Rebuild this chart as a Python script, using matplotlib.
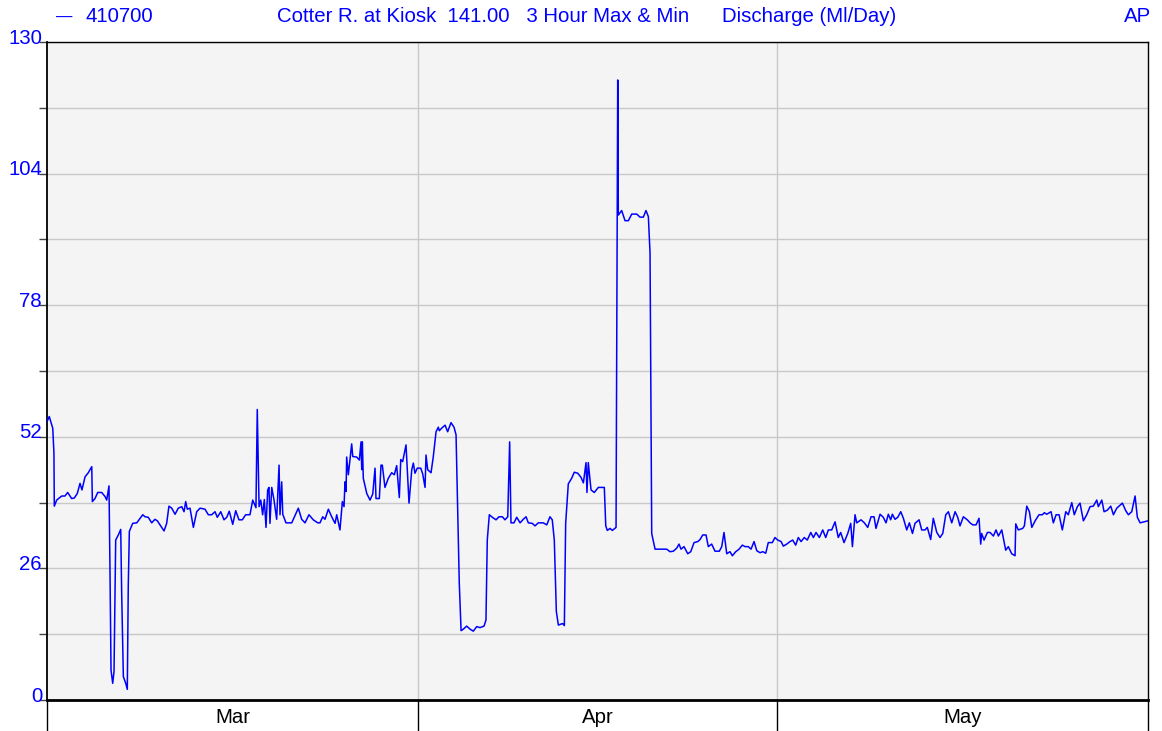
import matplotlib
matplotlib.use("Agg")
import matplotlib.pyplot as plt
import matplotlib.transforms as mtransforms

plt.rcParams["font.family"] = ["Liberation Sans", "DejaVu Sans"]

# ── station / series info ──
STATION   = "410700"
SITE      = "Cotter R. at Kiosk  141.00   3 Hour Max & Min"
VARIABLE  = "Discharge (Ml/Day)"
QUALITY   = "AP"

MONTHS       = ["Mar", "Apr", "May"]
MONTH_STARTS = [0, 31, 61, 92]          # days since 1 March

Y_MAJOR = [0, 26, 52, 78, 104, 130]
Y_MINOR = [13, 39, 65, 91, 117]

# ── discharge (Ml/day) vs days since 1 March ──
days = [
    0.00, 0.19, 0.48, 0.58, 0.61, 0.81, 1.23, 1.50, 1.73, 2.06, 2.28, 2.53,
    2.76, 2.92, 3.18, 3.45, 3.74, 3.79, 4.01, 4.24, 4.57, 4.85, 4.99, 5.18,
    5.26, 5.35, 5.49, 5.60, 5.74, 5.96, 6.16, 6.24, 6.38, 6.58, 6.71, 6.79,
    6.88, 7.16, 7.50, 7.69, 8.00, 8.19, 8.46, 8.75, 9.02, 9.22, 9.50, 9.78,
    10.00, 10.19, 10.42, 10.70, 10.97, 11.26, 11.45, 11.59, 11.72, 11.95,
    12.23, 12.51, 12.79, 13.20, 13.48, 13.76, 14.04, 14.23, 14.52, 14.79,
    15.02, 15.23, 15.52, 15.77, 16.04, 16.32, 16.60, 16.96, 17.19, 17.46,
    17.57, 17.72, 17.86, 18.02, 18.16, 18.30, 18.44, 18.55, 18.63, 18.78,
    18.97, 19.19, 19.39, 19.47, 19.61, 19.70, 19.97, 20.45, 21.00, 21.28,
    21.56, 21.89, 22.25, 22.62, 22.81, 23.04, 23.23, 23.51, 23.79, 24.07,
    24.21, 24.48, 24.68, 24.82, 24.90, 24.99, 25.04, 25.18, 25.46, 25.55,
    25.88, 26.10, 26.24, 26.30, 26.35, 26.43, 26.72, 26.99, 27.22, 27.41,
    27.49, 27.77, 27.91, 28.02, 28.24, 28.52, 28.80, 29.02, 29.22, 29.44,
    29.56, 29.72, 30.00, 30.25, 30.48, 30.61, 30.75, 30.94,
    31.23, 31.39, 31.59, 31.67, 31.81, 32.09, 32.28, 32.51, 32.70, 32.78,
    32.98, 33.26, 33.48, 33.76, 34.01, 34.18, 34.29, 34.45, 34.60, 34.79,
    35.07, 35.35, 35.62, 35.91, 36.18, 36.52, 36.68, 36.79, 36.96, 37.21,
    37.52, 37.77, 38.05, 38.27, 38.50, 38.66, 38.77, 39.02, 39.25, 39.53,
    39.80, 40.03, 40.22, 40.55, 40.78, 41.05, 41.47, 41.76, 42.03, 42.22,
    42.39, 42.56, 42.73, 42.95, 43.09, 43.23, 43.34, 43.56, 43.84, 44.06,
    44.35, 44.62, 44.82, 45.04, 45.12, 45.23, 45.46, 45.73, 46.07, 46.57,
    46.69, 46.82, 47.05, 47.24, 47.55, 47.69, 47.74, 48.02, 48.30, 48.58,
    48.86, 49.28, 49.55, 49.83, 50.05, 50.25, 50.39, 50.53, 50.81, 51.78,
    52.06, 52.34, 52.62, 52.81, 52.98, 53.23, 53.54, 53.79, 54.07, 54.38,
    54.57, 54.79, 55.07, 55.26, 55.54, 55.82, 56.18, 56.38, 56.57, 56.80,
    57.07, 57.27, 57.55, 57.83, 58.10, 58.33, 58.60, 58.83, 59.08, 59.31,
    59.58, 59.81, 60.06, 60.27, 60.61, 60.83,
    61.06, 61.34, 61.53, 61.81, 62.09, 62.31, 62.56, 62.78, 63.01, 63.28,
    63.53, 63.82, 64.04, 64.26, 64.54, 64.82, 65.07, 65.29, 65.57, 65.85,
    66.12, 66.32, 66.60, 66.91, 67.16, 67.30, 67.52, 67.66, 68.02, 68.30,
    68.58, 68.86, 69.11, 69.27, 69.61, 69.88, 70.11, 70.30, 70.50, 70.64,
    70.86, 71.09, 71.34, 71.56, 71.84, 72.06, 72.32, 72.53, 72.87, 73.09,
    73.37, 73.56, 73.84, 74.06, 74.35, 74.62, 74.85, 75.10, 75.32, 75.60,
    75.88, 76.10, 76.29, 76.57, 76.90, 77.13, 77.36, 77.63, 77.88, 78.02,
    78.10, 78.30, 78.58, 78.80, 79.08, 79.30, 79.50, 79.78, 80.11, 80.33,
    80.61, 80.89, 80.95, 81.16, 81.53, 81.67, 81.87, 82.09, 82.29, 82.57,
    82.89, 83.17, 83.34, 83.54, 83.76, 83.90, 84.09, 84.32, 84.57, 84.84,
    85.13, 85.34, 85.63, 85.84, 86.10, 86.32, 86.60, 86.88, 87.16, 87.43,
    87.72, 87.85, 88.14, 88.33, 88.60, 88.89, 89.11, 89.39, 89.86, 90.14,
    90.36, 90.64, 90.92, 91.11, 91.34, 92.00,
]
discharge = [
    55.0, 56.0, 53.7, 48.8, 38.3, 39.5, 40.3, 40.3, 41.0, 39.8, 39.9, 40.8,
    42.8, 41.5, 44.1, 44.9, 46.1, 39.2, 39.8, 41.0, 41.0, 40.2, 39.5, 42.3,
    26.3, 5.9, 3.3, 5.6, 31.6, 32.6, 33.7, 21.1, 4.6, 3.3, 2.1, 22.4,
    33.3, 34.9, 35.0, 35.6, 36.6, 36.2, 36.1, 35.0, 35.7, 35.4, 34.4, 33.4,
    34.9, 38.3, 37.9, 36.7, 37.9, 38.2, 37.2, 39.2, 37.7, 37.9,
    34.1, 37.2, 37.9, 37.7, 36.6, 36.6, 37.2, 36.1, 37.2, 35.6,
    36.1, 37.3, 34.7, 37.4, 35.6, 35.6, 36.6, 36.6, 39.5, 38.0,
    57.4, 38.2, 39.5, 36.6, 39.6, 34.1, 41.5, 42.0, 34.9, 42.0,
    39.5, 35.7, 46.4, 36.6, 43.1, 36.7, 35.0, 35.0, 37.9, 35.7,
    35.0, 36.6, 35.6, 35.0, 35.0, 36.2, 35.7, 37.7, 36.2, 34.9,
    36.6, 33.6, 39.2, 38.2, 43.1, 41.2, 48.0, 44.5, 50.6, 48.1,
    48.0, 47.4, 51.0, 45.5, 51.0, 43.8, 40.8, 39.5, 40.7, 45.8,
    39.8, 39.8, 46.4, 46.4, 42.0, 43.8, 44.9, 44.5, 46.3, 40.0,
    47.5, 47.1, 50.4, 38.9, 45.5, 46.8, 44.8, 45.8,
    45.8, 44.7, 42.0, 48.4, 45.5, 44.9, 48.1, 53.0, 53.9, 53.2,
    53.7, 54.3, 53.0, 54.8, 53.9, 52.4, 40.2, 23.1, 13.7, 14.0,
    14.6, 14.0, 13.6, 14.5, 14.3, 14.6, 15.8, 31.6, 36.6, 36.1,
    35.6, 36.2, 36.2, 35.6, 36.2, 51.0, 35.0, 35.0, 36.1, 35.0,
    35.7, 36.2, 35.0, 34.9, 34.4, 35.0, 35.0, 34.6, 36.2, 35.6,
    31.6, 17.5, 14.8, 15.0, 15.1, 14.7, 34.9, 42.7, 43.8, 45.0,
    44.8, 44.0, 42.9, 46.9, 41.0, 46.9, 41.5, 41.0, 42.0, 42.0,
    34.4, 33.5, 33.9, 33.5, 34.1, 122.5, 95.8, 96.7, 94.7, 94.7,
    96.0, 96.0, 95.4, 95.4, 96.7, 95.5, 88.3, 32.9, 29.8, 29.8,
    29.3, 29.4, 30.0, 30.8, 29.8, 30.3, 28.9, 29.3, 31.1, 31.3,
    31.7, 32.6, 32.6, 30.3, 30.8, 29.4, 29.4, 30.3, 33.1, 28.9,
    29.3, 28.5, 29.3, 29.8, 30.6, 30.3, 30.3, 29.8, 31.3, 29.5,
    29.1, 29.3, 29.0, 31.1, 31.1, 32.1,
    31.6, 31.3, 30.4, 30.8, 31.3, 31.6, 30.6, 32.1, 31.3, 32.1,
    31.6, 33.1, 32.1, 33.1, 32.1, 33.6, 32.1, 33.6, 33.6, 35.2,
    32.1, 33.1, 31.1, 32.9, 34.9, 30.3, 36.6, 35.0, 35.6, 35.0,
    34.1, 36.2, 36.2, 33.9, 36.7, 36.1, 35.0, 36.7, 35.6, 36.7,
    35.7, 36.1, 37.2, 35.9, 33.6, 35.0, 32.9, 34.9, 35.6, 33.6,
    33.6, 34.1, 31.7, 35.9, 33.1, 32.1, 32.9, 36.6, 37.2, 35.0,
    37.2, 36.1, 34.4, 36.2, 35.6, 35.0, 34.6, 34.6, 35.9, 30.8,
    32.9, 31.6, 33.1, 33.1, 32.4, 33.6, 32.4, 33.6, 29.6, 30.3,
    28.9, 28.5, 34.8, 33.6, 33.9, 34.4, 38.3, 37.2, 34.1, 35.4,
    36.6, 36.6, 37.0, 36.7, 37.0, 37.2, 35.0, 36.6, 36.6, 33.6,
    37.2, 36.6, 39.0, 36.6, 38.2, 38.9, 35.4, 36.6, 38.2, 38.3,
    39.5, 38.2, 39.5, 37.2, 37.5, 38.3, 36.6, 37.9, 38.9, 37.4,
    36.6, 37.2, 40.3, 36.1, 35.0, 35.4,
]

BLUE = "#0000ff"
FS = 14.7
W, H = 1162, 731

fig = plt.figure(figsize=(W / 100, H / 100), dpi=100)
ax = fig.add_axes([47 / W, 31 / H, 1101 / W, 658 / H])
ax.set_facecolor("#f4f4f4")

ax.plot(days, discharge, color=BLUE, lw=1.1, zorder=3)

ax.set_xlim(MONTH_STARTS[0], MONTH_STARTS[-1])
ax.set_ylim(Y_MAJOR[0], Y_MAJOR[-1])

# horizontal grid every 13, labels every 26 (labels drawn by hand below)
ax.set_yticks(Y_MAJOR)
ax.set_yticks(Y_MINOR, minor=True)
ax.grid(which="both", axis="y", color="#c8c8c8", lw=1)
ax.tick_params(axis="y", which="both", direction="out", length=6,
               width=1, color="#444444", labelleft=False)

# y labels sit just above their tick, flush against it
ytrans = mtransforms.blended_transform_factory(ax.transAxes, ax.transData)
lbl_off = mtransforms.ScaledTranslation(-5 / 100, 4 / 100, fig.dpi_scale_trans)
for v in Y_MAJOR:
    ax.text(0, v, str(v), transform=ytrans + lbl_off, ha="right",
            va="center", fontsize=FS, color=BLUE, clip_on=False)

# month boundaries as vertical grid, no tick labels
ax.set_xticks(MONTH_STARTS[1:-1])
ax.grid(axis="x", color="#c8c8c8", lw=1)
ax.tick_params(axis="x", length=0, labelbottom=False)

for side in ["top", "right"]:
    ax.spines[side].set_linewidth(1)
ax.spines["left"].set_linewidth(1.3)
ax.spines["bottom"].set_linewidth(2)

# month band under the axis
trans = mtransforms.blended_transform_factory(ax.transData, ax.transAxes)
for b in MONTH_STARTS:
    ax.plot([b, b], [0, -0.06], transform=trans, color="black", lw=1,
            clip_on=False)
for m, a, b in zip(MONTHS, MONTH_STARTS[:-1], MONTH_STARTS[1:]):
    ax.text((a + b) / 2, -0.027, m, transform=trans, ha="center", va="center",
            fontsize=FS, color="black")

# header line
hy = 1 - 17 / H
fig.text(56 / W, hy, "—", color=BLUE, fontsize=FS * 0.8, ha="left", va="center")
fig.text(85 / W, hy, STATION, color=BLUE, fontsize=FS, ha="left", va="center")
fig.text(277 / W, hy, SITE, color=BLUE, fontsize=FS, ha="left", va="center")
fig.text(722 / W, hy, VARIABLE, color=BLUE, fontsize=FS, ha="left", va="center")
fig.text(1151 / W, hy, QUALITY, color=BLUE, fontsize=FS, ha="right", va="center")

fig.savefig("out.png", dpi=100)
